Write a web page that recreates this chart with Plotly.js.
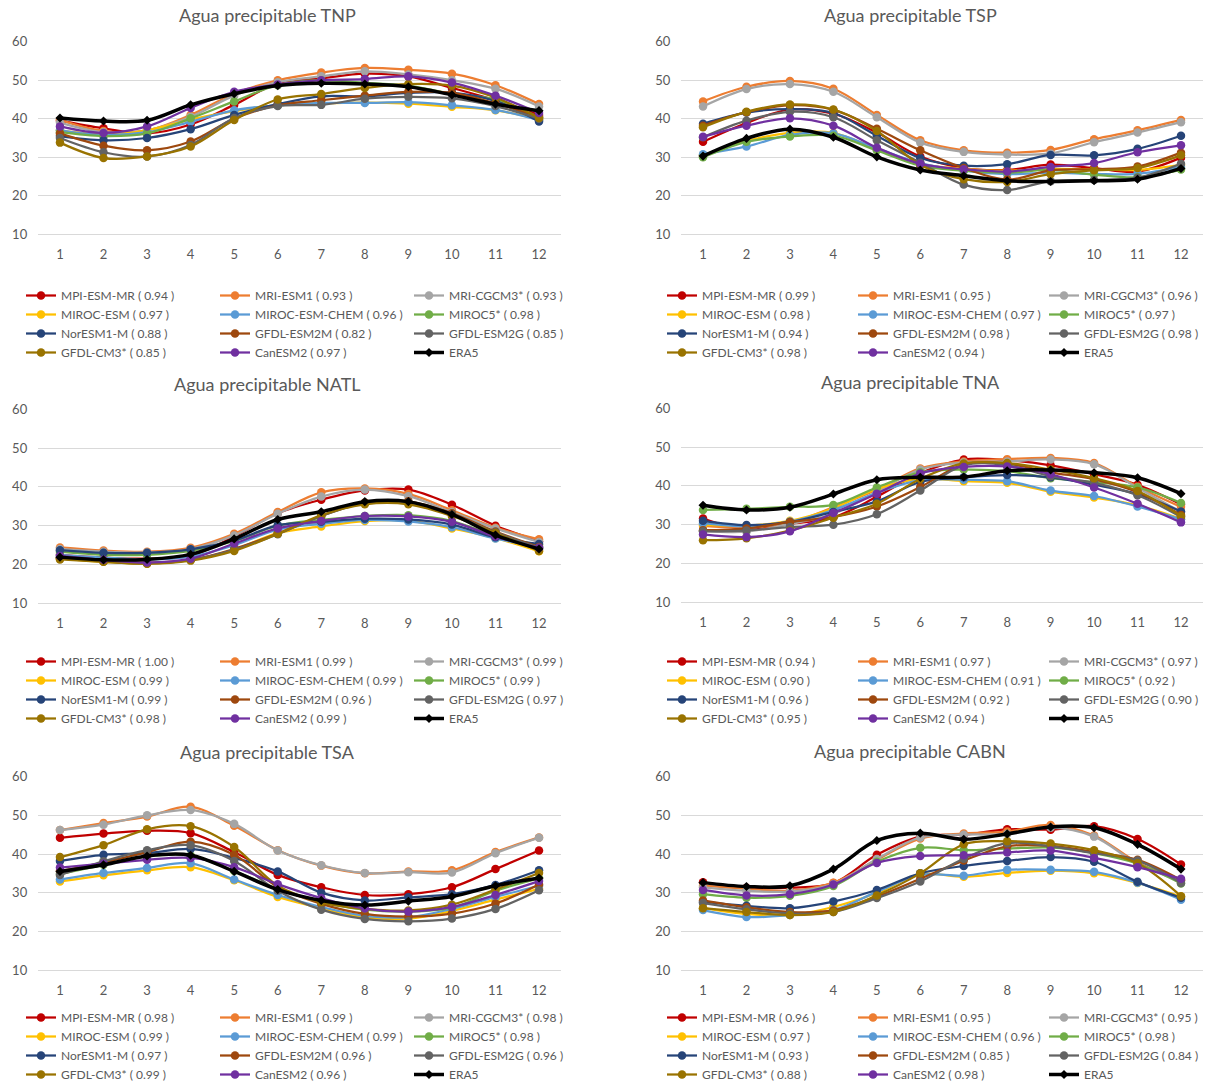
<!DOCTYPE html>
<html>
<head>
<meta charset="utf-8">
<script src="https://cdn.plot.ly/plotly-3.0.1.min.js"></script>
<style>
html,body{margin:0;padding:0;background:#ffffff;}
#chart{width:1209px;height:1089px;}
</style>
</head>
<body>
<div id="chart"></div>
<script>
// ---------- DATA ----------
const months = [1,2,3,4,5,6,7,8,9,10,11,12];
const monthLabels = ['1','2','3','4','5','6','7','8','9','10','11','12'];
const modelNames = ['MPI-ESM-MR','MRI-ESM1','MRI-CGCM3*','MIROC-ESM','MIROC-ESM-CHEM','MIROC5*',
                    'NorESM1-M','GFDL-ESM2M','GFDL-ESM2G','GFDL-CM3*','CanESM2','ERA5'];
const panelTitles = ['Agua precipitable TNP','Agua precipitable TSP','Agua precipitable NATL',
                     'Agua precipitable TNA','Agua precipitable TSA','Agua precipitable CABN'];

// rows follow modelNames order (last row = ERA5)
const TNP = [
  [39.5,37.5,36.2,38.5,43.6,49.2,50.5,51.7,51.0,48.0,44.8,41.0],
  [39.7,36.8,37.0,41.0,46.5,50.0,52.0,53.2,52.7,51.7,48.7,43.8],
  [39.0,36.5,37.0,40.5,46.0,49.5,51.0,52.3,51.5,50.0,47.8,43.2],
  [37.0,36.0,37.0,39.8,42.0,43.5,44.0,44.2,43.9,43.1,42.2,39.8],
  [37.0,35.8,36.5,39.2,42.2,43.5,44.1,44.1,44.3,43.5,42.3,39.6],
  [36.5,35.5,36.2,40.1,44.5,48.7,50.0,49.3,48.6,46.5,45.0,40.4],
  [35.5,34.4,35.0,37.3,41.0,43.8,45.8,45.8,46.7,46.8,44.6,39.3],
  [36.2,33.0,31.8,34.1,40.0,43.5,44.8,46.0,47.0,46.7,44.0,40.5],
  [35.0,31.3,30.2,33.2,40.2,43.3,43.6,45.2,45.7,45.3,43.3,40.0],
  [33.8,29.8,30.2,32.8,39.7,45.0,46.4,48.0,49.0,48.6,45.5,40.2],
  [38.0,36.3,38.0,42.8,47.0,48.9,50.0,50.3,51.0,49.4,46.0,41.5],
  [40.2,39.4,39.6,43.6,46.5,48.6,49.2,49.0,48.3,46.2,43.8,42.1]
];
const TSP = [
  [34.0,38.9,42.4,41.3,36.4,30.2,27.2,26.7,28.1,27.2,26.3,29.9],
  [44.5,48.3,49.8,47.8,41.0,34.4,31.8,31.2,31.9,34.7,37.0,39.7],
  [43.2,47.7,49.0,47.0,40.4,33.8,31.4,30.7,31.0,33.9,36.4,39.1],
  [30.5,34.2,36.3,36.3,32.2,28.3,27.0,26.5,27.0,26.9,26.7,28.0],
  [30.8,32.8,35.8,36.2,32.3,28.5,26.5,25.6,26.0,25.7,25.7,27.5],
  [30.0,34.0,35.4,35.6,31.8,27.8,26.5,26.0,26.7,25.5,24.8,26.8],
  [38.7,41.6,42.5,41.5,35.6,29.8,27.8,28.2,30.6,30.5,32.2,35.6],
  [38.2,41.7,43.5,42.3,37.4,31.8,27.2,24.2,26.6,26.9,27.6,31.2],
  [35.2,39.5,41.8,40.4,34.4,28.6,22.9,21.5,23.8,24.1,24.7,28.3],
  [37.8,41.8,43.7,42.4,36.8,28.0,24.3,23.6,25.6,26.6,27.2,30.5],
  [35.3,38.2,40.1,38.2,32.5,28.3,26.9,26.3,27.5,28.5,31.3,33.1],
  [30.3,34.9,37.3,35.2,30.1,26.7,25.2,23.9,23.7,23.9,24.3,27.1]
];
const NATL = [
  [22.5,21.8,21.5,22.3,27.2,33.2,36.7,39.1,39.3,35.4,30.0,26.0],
  [24.4,23.6,23.3,24.3,27.9,33.5,38.6,39.6,38.2,34.0,29.5,26.5],
  [24.0,23.3,23.1,24.0,27.5,33.1,37.5,39.3,37.6,33.5,29.3,25.8],
  [21.6,20.7,20.2,21.2,23.8,28.1,29.8,31.2,31.3,29.3,26.8,23.4],
  [22.5,21.8,21.3,22.0,25.0,29.0,30.5,31.5,31.1,29.6,26.7,24.6],
  [23.3,22.5,22.5,23.5,26.0,30.0,31.5,32.5,32.7,31.2,27.4,25.0],
  [23.7,23.0,23.0,23.9,26.2,30.1,31.0,31.8,31.6,30.3,27.0,25.3],
  [21.6,20.9,20.5,21.2,24.0,28.0,32.5,36.0,36.3,33.2,28.5,24.5],
  [21.8,20.8,20.3,21.2,23.8,27.8,32.5,35.8,36.0,32.8,28.3,24.3],
  [21.3,20.7,20.2,21.0,23.5,27.9,32.7,35.5,35.5,32.5,28.1,23.5],
  [22.2,21.2,20.5,21.5,25.4,29.3,31.2,32.5,32.4,31.0,27.2,24.3],
  [21.9,21.2,21.3,22.6,26.6,31.6,33.6,36.2,36.2,32.9,27.6,24.0]
];
const TNA = [
  [31.6,28.8,30.2,31.9,37.2,43.3,46.8,46.6,45.3,43.0,40.3,35.2],
  [29.7,29.3,30.5,34.5,39.0,44.5,46.3,46.9,47.2,45.9,39.8,34.6],
  [28.4,28.2,30.2,32.8,38.5,44.2,46.0,46.3,46.8,45.6,39.5,33.3],
  [30.0,29.8,31.0,34.2,39.2,41.8,41.2,40.8,38.5,37.0,35.0,31.5],
  [30.4,29.6,30.8,33.8,38.2,41.5,41.6,41.2,38.8,37.4,34.7,31.4],
  [33.8,34.1,34.6,35.1,39.6,43.5,44.2,43.8,42.0,41.0,39.6,35.6],
  [31.0,29.9,30.7,33.3,36.0,41.0,42.2,42.8,42.2,40.3,37.9,33.4],
  [28.6,29.0,30.7,32.0,34.7,39.7,45.5,45.7,43.5,41.7,38.4,32.5],
  [28.3,28.5,29.4,30.0,32.7,38.8,45.3,45.3,42.5,40.8,37.6,32.0],
  [26.0,26.5,28.5,31.8,35.4,41.8,45.8,45.9,44.2,42.0,38.7,32.2],
  [27.5,26.8,28.3,33.0,38.0,43.2,44.9,45.0,43.0,39.6,35.4,30.6],
  [35.0,33.8,34.5,37.9,41.6,42.2,42.3,43.9,44.1,43.4,42.1,38.0]
];
const TSA = [
  [44.2,45.3,46.0,45.4,40.5,34.6,31.4,29.4,29.6,31.4,36.1,40.9],
  [46.2,48.0,49.7,52.2,47.3,41.0,37.0,35.0,35.5,35.8,40.5,44.3],
  [46.2,47.6,50.0,51.4,47.8,40.9,37.1,35.1,35.3,35.2,40.2,44.2],
  [32.9,34.5,35.8,36.6,33.2,28.9,26.0,23.6,23.3,25.3,28.2,31.0],
  [33.4,35.1,36.4,37.6,33.4,29.4,26.3,24.0,23.7,25.8,28.9,31.8],
  [34.8,37.2,39.4,39.6,35.6,31.0,27.6,25.6,25.1,26.1,30.5,33.7],
  [38.2,39.8,40.2,41.3,39.0,35.5,30.0,28.0,28.8,29.6,32.0,35.8],
  [35.6,37.8,40.5,43.2,39.8,31.5,27.1,24.5,23.8,24.6,27.2,32.1],
  [34.6,38.1,41.0,42.3,38.2,30.5,25.6,23.2,22.6,23.3,25.8,30.6],
  [39.2,42.3,46.4,47.2,41.8,31.8,27.5,25.8,25.4,26.9,30.8,35.1],
  [36.5,37.5,38.5,39.0,36.6,32.2,28.6,25.9,25.1,26.3,29.4,33.0],
  [35.5,37.2,39.5,39.7,35.5,30.8,28.0,26.8,27.8,29.0,31.8,33.8]
];
const CABN = [
  [32.7,31.3,31.3,32.5,39.8,44.5,45.0,46.4,46.3,47.2,43.9,37.3],
  [31.8,31.0,30.5,32.6,38.5,44.0,45.3,45.8,47.5,44.8,37.8,33.2],
  [31.4,30.5,30.3,32.2,38.7,44.3,45.0,45.2,46.8,44.5,37.5,33.0],
  [26.0,24.5,24.2,26.3,29.9,34.8,34.1,35.1,35.7,35.0,32.5,29.0],
  [25.5,23.7,24.2,25.5,30.2,34.6,34.4,35.9,35.9,35.4,32.6,28.2],
  [29.6,28.7,29.2,31.7,38.0,41.6,41.0,41.4,41.7,40.2,37.5,32.4],
  [27.6,26.6,26.0,27.7,30.7,35.0,36.9,38.2,39.2,38.0,32.8,28.7],
  [28.0,26.2,25.0,25.4,29.0,33.6,38.3,42.0,42.1,40.5,38.5,33.3],
  [27.3,25.7,24.6,25.0,28.6,32.9,38.8,42.8,42.0,40.2,38.3,32.5],
  [26.0,25.0,24.2,25.0,29.3,35.0,42.5,43.3,42.7,41.0,37.6,29.1],
  [30.7,29.3,29.6,32.1,37.7,39.5,39.7,40.4,40.9,39.0,36.6,33.6],
  [32.6,31.6,31.8,36.1,43.5,45.4,43.8,45.2,47.0,46.8,42.5,36.1]
];

// correlation coefficients shown in the legends (models only)
const corrTNP  = [0.94,0.93,0.93,0.97,0.96,0.98,0.88,0.82,0.85,0.85,0.97];
const corrTSP  = [0.99,0.95,0.96,0.98,0.97,0.97,0.94,0.98,0.98,0.98,0.94];
const corrNATL = [1.00,0.99,0.99,0.99,0.99,0.99,0.99,0.96,0.97,0.98,0.99];
const corrTNA  = [0.94,0.97,0.97,0.90,0.91,0.92,0.96,0.92,0.90,0.95,0.94];
const corrTSA  = [0.98,0.99,0.98,0.99,0.99,0.98,0.97,0.96,0.96,0.99,0.96];
const corrCABN = [0.96,0.95,0.95,0.97,0.96,0.98,0.93,0.85,0.84,0.88,0.98];

// ---------- STYLE ----------
const colors = ['#C00000','#ED7D31','#A5A5A5','#FFC000','#5B9BD5','#70AD47',
                '#264478','#9E480E','#636363','#997300','#7030A0','#000000'];
const FONT = 'Lato, "Liberation Sans", sans-serif';
const TXT = '#595959';
const W = 1209, H = 1089;

const panelValues = [TNP, TSP, NATL, TNA, TSA, CABN];
const panelCorr = [corrTNP, corrTSP, corrNATL, corrTNA, corrTSA, corrCABN];

// pixel geometry of each panel (plot area) -> paper domains
const colX = [[38.2, 560.8], [681.3, 1202.7]];
const rowY = [[[41.7, 234.3],[41.7, 234.3]], [[409.3, 603.3],[408.3, 602.3]], [[776.7, 970],[776.7, 970]]];
const titlePos = [[267, 15],[910, 15],[267, 384],[910, 382],[267, 752],[910, 751]];
const legendPos = [[21, 281],[662, 281],[21, 647],[662, 647],[21, 1003],[662, 1003]];
const colWidth = [149, 146];

const traces = [];
const layout = {
  width: W, height: H,
  margin: {l:0, r:0, t:0, b:0, pad:0},
  paper_bgcolor: '#ffffff',
  plot_bgcolor: 'rgba(0,0,0,0)',
  font: {family: FONT, color: TXT, size: 13},
  showlegend: true,
  hovermode: 'closest',
  annotations: []
};

panelValues.forEach((vals, k) => {
  const sfx = k === 0 ? '' : String(k + 1);
  const side = k % 2;
  const row = Math.floor(k / 2);
  const legKey = 'legend' + sfx;

  vals.forEach((series, i) => {
    const isRef = i === modelNames.length - 1;
    const col = i % 3;
    const tr = {
      type: 'scatter',
      mode: 'lines+markers',
      x: months,
      y: series,
      xaxis: 'x' + sfx,
      yaxis: 'y' + sfx,
      name: isRef ? modelNames[i] : modelNames[i] + ' ( ' + panelCorr[k][i].toFixed(2) + ' )',
      legend: legKey,
      legendgroup: 'p' + k + 'c' + col,
      line: {color: colors[i], width: isRef ? 3.5 : 2.25, shape: 'spline', smoothing: 1},
      marker: {color: colors[i], size: isRef ? 7 : 8.5, symbol: isRef ? 'diamond' : 'circle'},
      hovertemplate: modelNames[i] + ': %{y}<extra></extra>'
    };
    if (col < 2) tr.legendwidth = colWidth[side];
    traces.push(tr);
  });

  const xd = colX[side], yd = rowY[row][side];
  layout['xaxis' + sfx] = {
    domain: [xd[0] / W, xd[1] / W],
    anchor: 'y' + sfx,
    range: [0.5, 12.5],
    tickmode: 'array', tickvals: months, ticktext: monthLabels,
    showgrid: false, zeroline: false,
    showline: true, linecolor: '#D9D9D9', linewidth: 1,
    ticks: '', ticklabelstandoff: 8,
    tickfont: {family: FONT, size: 13, color: TXT},
    fixedrange: true
  };
  layout['yaxis' + sfx] = {
    domain: [1 - yd[1] / H, 1 - yd[0] / H],
    anchor: 'x' + sfx,
    range: [10, 60],
    tick0: 0, dtick: 10,
    showgrid: true, gridcolor: '#D9D9D9', gridwidth: 1,
    zeroline: false, showline: false,
    ticks: '', ticklabelstandoff: 10,
    tickfont: {family: FONT, size: 13, color: TXT},
    fixedrange: true
  };
  layout[legKey] = {
    x: legendPos[k][0] / W, y: 1 - legendPos[k][1] / H,
    xanchor: 'left', yanchor: 'top',
    orientation: 'h', traceorder: 'grouped',
    bgcolor: 'rgba(0,0,0,0)', borderwidth: 0,
    font: {family: FONT, size: 12, color: TXT}
  };
  layout.annotations.push({
    text: panelTitles[k],
    xref: 'paper', yref: 'paper',
    x: titlePos[k][0] / W, y: 1 - titlePos[k][1] / H,
    xanchor: 'center', yanchor: 'middle',
    showarrow: false,
    font: {family: FONT, size: 18, color: TXT}
  });
});

Plotly.newPlot('chart', traces, layout, {displayModeBar: false, staticPlot: false, responsive: false});
</script>
</body>
</html>
